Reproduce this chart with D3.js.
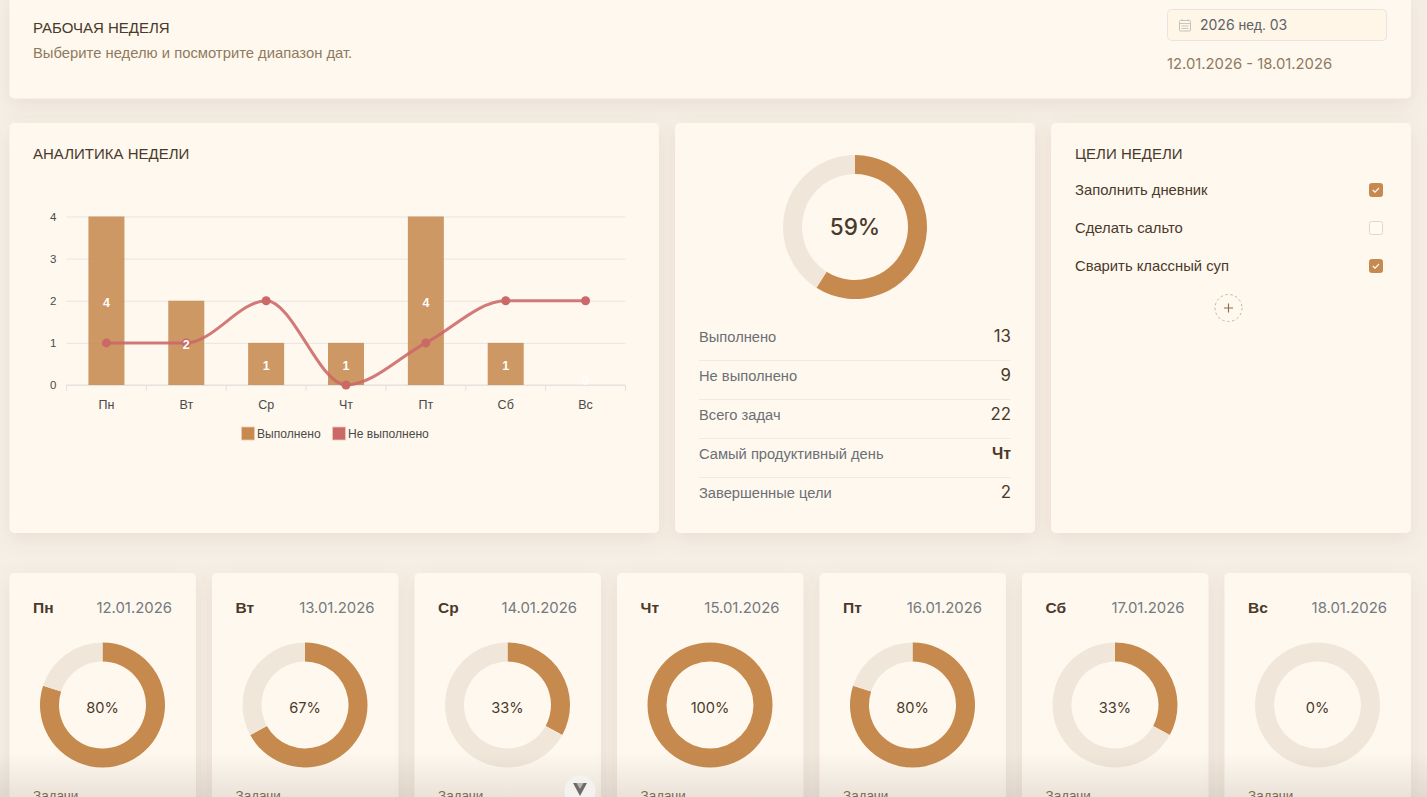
<!DOCTYPE html>
<html lang="ru"><head><meta charset="utf-8">
<script src="https://cdn.jsdelivr.net/npm/d3@7/dist/d3.min.js"></script>
<style>
html,body{margin:0;padding:0;background:#f6efe6;overflow:hidden}
svg{display:block}
text{font-family:"Liberation Sans",Arial,sans-serif}
text.num{font-family:"Inter","Noto Sans",sans-serif}
tspan.cy{font-family:"Liberation Sans",Arial,sans-serif}
.domain{display:none}
</style></head><body><svg id="c" width="1427" height="797"></svg>
<script>
const days=["Пн","Вт","Ср","Чт","Пт","Сб","Вс"];
const dates=["12.01.2026","13.01.2026","14.01.2026","15.01.2026","16.01.2026","17.01.2026","18.01.2026"];
const done=[4,2,1,1,4,1,0];
const notDone=[1,1,2,0,1,2,2];
const yTicks=[0,1,2,3,4];
const legendLabels=["Выполнено","Не выполнено"];
const statLabels=["Выполнено","Не выполнено","Всего задач","Самый продуктивный день","Завершенные цели"];
const statValues=["13","9","22","Чт","2"];
const goals=["Заполнить дневник","Сделать сальто","Сварить классный суп"];
const goalChecked=[true,false,true];
const overallPct=59;

const BRAND="#c68a4e",TRACK="#f0e7da",RED="#cb6868",CARD="#fff8ee",INK="#4a3a2c",MUTED="#8f7a5f",GREY="#6b7075";
const svg=d3.select("#c");
const defs=svg.append("defs");
const f=defs.append("filter").attr("id","sh").attr("x","-15%").attr("y","-15%").attr("width","130%").attr("height","135%");
f.append("feDropShadow").attr("dx",0).attr("dy",6).attr("stdDeviation",10).attr("flood-color","#8a6a40").attr("flood-opacity",0.12);
const g2=defs.append("linearGradient").attr("id","fade").attr("x1",0).attr("x2",0).attr("y1",0).attr("y2",1);
g2.append("stop").attr("offset",0).attr("stop-color","#6b6055").attr("stop-opacity",0);
g2.append("stop").attr("offset",1).attr("stop-color","#6b6055").attr("stop-opacity",0.14);

function card(x,y,w,h){svg.append("rect").attr("x",x).attr("y",y).attr("width",w).attr("height",h).attr("rx",5).attr("fill",CARD).attr("filter","url(#sh)");}
function txt(x,y,s,o={}){return svg.append("text").attr("x",x).attr("y",y).attr("font-size",o.size||15).attr("fill",o.fill||INK)
  .attr("text-anchor",o.anchor||"start").attr("font-weight",o.weight||400).attr("class",o.cls||null).text(s);}
function donut(cx,cy,R,r,pct){
  const g=svg.append("g").attr("transform",`translate(${cx},${cy})`);
  const arc=d3.arc().innerRadius(r).outerRadius(R);
  const pie=d3.pie().sort(null)([pct,100-pct]);
  g.selectAll("path").data(pie).join("path").attr("d",arc).attr("fill",(d,i)=>i?TRACK:BRAND);
}

svg.append("rect").attr("x",1292).attr("y",0).attr("width",118).attr("height",4).attr("fill","#fbf9f6");
card(9.5,-10,1401.5,108.5);
card(9.5,123,649.5,410);card(675,123,360,410);card(1051,123,360,410);

// header
txt(33,33,"РАБОЧАЯ НЕДЕЛЯ",{size:15});
txt(33,58,"Выберите неделю и посмотрите диапазон дат.",{size:14.8,fill:MUTED});
svg.append("rect").attr("x",1167.5).attr("y",9.5).attr("width",219).attr("height",31).attr("rx",4).attr("fill","#fff6e8").attr("stroke","#e6e5e4");
const cal=svg.append("g").attr("transform","translate(1179,19)").attr("fill","none").attr("stroke","#c4c0ba");
cal.append("rect").attr("x",0.5).attr("y",1.5).attr("width",11).attr("height",10.5).attr("rx",1);
cal.append("path").attr("d","M.5 4.5H11.5M3 0V2M9 0V2M2.5 7H9.5M2.5 9.5H9.5").attr("stroke-width",0.9);
const wk=txt(1200,30,"",{size:14,fill:"#5d6369",cls:"num"});
wk.append("tspan").text("2026 ");
wk.append("tspan").attr("class","cy").text("нед.");
wk.append("tspan").text(" 03");
txt(1167,69,"12.01.2026 - 18.01.2026",{size:14.8,fill:MUTED,cls:"num"});

// analytics chart
txt(33,159,"АНАЛИТИКА НЕДЕЛИ",{size:15});
const x=d3.scaleBand().domain(days).range([66.5,625.5]);
const y=d3.scaleLinear().domain([0,4]).range([385,216.5]);
const plot=svg.append("g");
const gy=plot.append("g").attr("transform","translate(66.5,0)").call(d3.axisLeft(y).tickValues(yTicks).tickFormat(d3.format("d")).tickSize(-559).tickPadding(10));
gy.selectAll("line").attr("stroke","#e7e5e3");
gy.selectAll("text").attr("font-size",11.5).attr("fill","#4a4a4a").attr("font-family","Liberation Sans");
const gx=plot.append("g").attr("transform","translate(0,385)").call(d3.axisBottom(x).tickSize(0).tickPadding(15));
gx.selectAll("text").attr("font-size",12.5).attr("fill","#4a4a4a").attr("font-family","Liberation Sans");
plot.append("path").attr("d","M66.5 385H625.5").attr("stroke","#e4e1dc").attr("fill","none");
plot.append("g").selectAll("line").data(d3.range(8)).join("line")
  .attr("x1",i=>66.5+i*x.step()).attr("x2",i=>66.5+i*x.step()).attr("y1",385).attr("y2",391).attr("stroke","#e4e1dc");
const barW=36;
plot.append("g").selectAll("rect").data(done).join("rect")
  .attr("x",(d,i)=>x(days[i])+x.bandwidth()/2-barW/2).attr("width",barW)
  .attr("y",d=>y(d)).attr("height",d=>y(0)-y(d)).attr("fill",BRAND).attr("fill-opacity",0.87);
const line=d3.line().x((d,i)=>x(days[i])+x.bandwidth()/2).y(d=>y(d)).curve(d3.curveMonotoneX);
plot.append("path").attr("d",line(notDone)).attr("fill","none").attr("stroke",RED).attr("stroke-width",3).attr("stroke-opacity",0.88);
plot.append("g").selectAll("circle").data(notDone).join("circle")
  .attr("cx",(d,i)=>x(days[i])+x.bandwidth()/2).attr("cy",d=>y(d)).attr("r",4.5).attr("fill",RED);
plot.append("g").selectAll("text").data(done).join("text")
  .attr("x",(d,i)=>x(days[i])+x.bandwidth()/2).attr("y",d=>d?(y(d)+y(0))/2+6.5:y(0))
  .attr("text-anchor","middle").attr("font-size",12.5).attr("font-weight",700).attr("fill","#fff").attr("fill-opacity",d=>d?1:0.8).text(d=>d);
// legend
const lg=[[241.5,257,BRAND],[332.5,348,RED]];
legendLabels.forEach((l,i)=>{
  svg.append("rect").attr("x",lg[i][0]).attr("y",427).attr("width",13).attr("height",13).attr("fill",lg[i][2]).attr("stroke","#eec9b8").attr("stroke-width",0.8);
  txt(lg[i][1],437.5,l,{size:12.1,fill:"#4a4a4a"});
});

// summary donut
donut(855,227,72,53,overallPct);
txt(855,235,overallPct+"%",{size:22.5,anchor:"middle",cls:"num",weight:500});
statLabels.forEach((l,i)=>{
  const yy=342+i*39;
  txt(699,yy,l,{size:14.7,fill:GREY});
  txt(1011,yy,statValues[i],{size:i===3?16:16.8,anchor:"end",cls:i===3?null:"num",weight:i===3?700:400});
  if(i<4) svg.append("line").attr("x1",699).attr("x2",1011).attr("y1",yy+18.5).attr("y2",yy+18.5).attr("stroke","#f1ebe2");
});

// goals
txt(1075,159,"ЦЕЛИ НЕДЕЛИ",{size:15});
goals.forEach((l,i)=>{
  const yy=190+i*38;
  txt(1075,yy+5,l,{size:14.8});
  svg.append("rect").attr("x",1369.5).attr("y",yy-6.5).attr("width",13).attr("height",13).attr("rx",2)
    .attr("fill",goalChecked[i]?BRAND:"#fffaf2").attr("stroke",goalChecked[i]?BRAND:"#e0d6c8");
  if(goalChecked[i]) svg.append("path").attr("d",`M1372.800 ${yy}l2.200 2.200 4-4.200`).attr("fill","none").attr("stroke","#fff").attr("stroke-width",1.1);
});
svg.append("circle").attr("cx",1228.5).attr("cy",308).attr("r",13.5).attr("fill","none").attr("stroke","#d2b48f").attr("stroke-dasharray","2.5 2.5");
svg.append("path").attr("d","M1224 308H1233M1228.5 303.500V312.500").attr("stroke","#8a6d4b").attr("stroke-width",1.1);

// day cards
days.forEach((d,i)=>{
  const cx=9.5+i*202.5;
  card(cx,573,186.5,260);
  txt(cx+23.5,613,d,{size:15.5,weight:700});
  txt(cx+162.5,613,dates[i],{size:14.9,fill:"#747a80",anchor:"end",cls:"num"});
  const t=done[i]+notDone[i];
  const pct=Math.round(done[i]/t*100);
  donut(cx+93,705,62.5,43.5,pct);
  txt(cx+93,712.5,pct+"%",{size:14.6,anchor:"middle",cls:"num"});
  txt(cx+23.5,800,"Задачи",{size:13.500,fill:"#7e6b55"});
});

// bottom fade
svg.append("rect").attr("x",0).attr("y",752).attr("width",1427).attr("height",45).attr("fill","url(#fade)");
// floating devtools chip
svg.append("circle").attr("cx",580).attr("cy",791).attr("r",15.5).attr("fill","#f4f2ef");
svg.append("path").attr("d","M573 783H587L580 796Z").attr("fill","#6f6c68");
svg.append("path").attr("d","M576.500 783H583.500L580 789Z").attr("fill","#b9b6b1");
</script></body></html>
